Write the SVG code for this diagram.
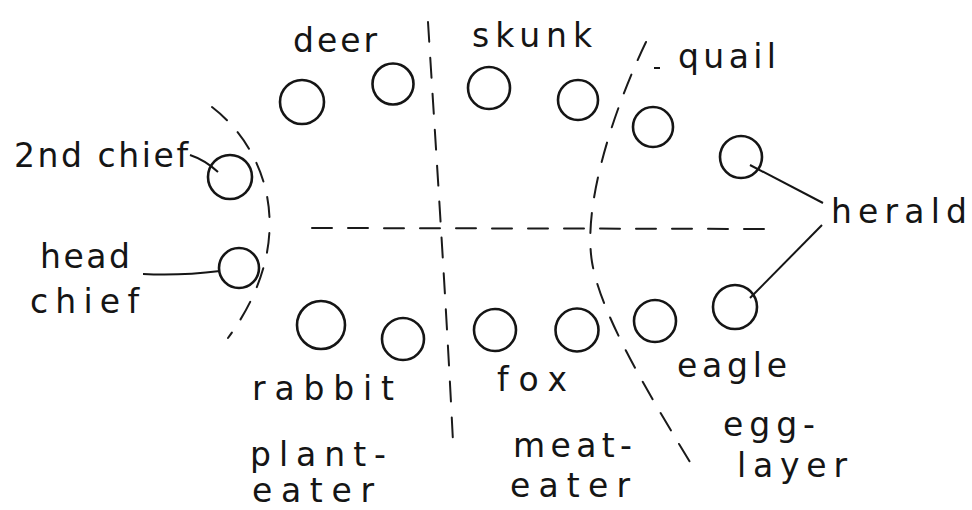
<svg xmlns="http://www.w3.org/2000/svg" width="972" height="510" viewBox="0 0 972 510">
<style>
.n{fill:none;stroke:#151515;stroke-width:2.6}
.c{fill:none;stroke:#151515;stroke-width:2}
.d{fill:none;stroke:#1a1a1a;stroke-width:2;stroke-dasharray:20 16;stroke-linecap:round}
text{font-family:"DejaVu Sans","Liberation Sans",sans-serif;font-size:33px;fill:#151515}
</style>
<rect width="972" height="510" fill="#fff"/>
<g id="dividers">
<path class="d" d="M212,107 C268,150 300,240 228,338"/>
<path class="d" d="M428,22 C436,150 446,300 453,442"/>
<path class="d" d="M312,228 L778,229"/>
<path class="d" d="M646,42 C618,100 582,200 592,262 C600,310 640,380 690,462"/>
<path class="c" d="M654,68 L660,68"/>
</g>
<g id="connectors">
<path class="c" d="M190,155 Q205,160 218,172"/>
<path class="c" d="M143,274 Q180,276 220,271"/>
<path class="c" d="M750,165 L823,203"/>
<path class="c" d="M822,225 L750,298"/>
</g>
<g id="deer"><circle class="n" cx="302" cy="102" r="22"/><circle class="n" cx="393" cy="84" r="20.5"/><text x="293" y="52" textLength="84" lengthAdjust="spacing">deer</text></g>
<g id="skunk"><circle class="n" cx="489" cy="88" r="21"/><circle class="n" cx="578" cy="100" r="20"/><text x="472" y="47" textLength="120" lengthAdjust="spacing">skunk</text></g>
<g id="quail"><circle class="n" cx="653" cy="127" r="20"/><text x="678" y="68" textLength="98" lengthAdjust="spacing">quail</text></g>
<g id="second-chief"><circle class="n" cx="230" cy="177" r="22"/><text x="14" y="167" textLength="174" lengthAdjust="spacing">2nd chief</text></g>
<g id="head-chief"><circle class="n" cx="239" cy="268" r="20"/><text x="40" y="268" textLength="90" lengthAdjust="spacing">head</text><text x="30" y="313" textLength="109" lengthAdjust="spacing">chief</text></g>
<g id="herald"><circle class="n" cx="741" cy="157" r="21"/><circle class="n" cx="735" cy="307" r="22"/><text x="831" y="223" textLength="136" lengthAdjust="spacing">herald</text></g>
<g id="rabbit"><circle class="n" cx="321" cy="325" r="24"/><circle class="n" cx="403" cy="339" r="21"/><text x="252" y="400" textLength="142" lengthAdjust="spacing">rabbit</text></g>
<g id="fox"><circle class="n" cx="495" cy="330" r="21"/><circle class="n" cx="577" cy="330" r="21.5"/><text x="497" y="391" textLength="70" lengthAdjust="spacing">fox</text></g>
<g id="eagle"><circle class="n" cx="655" cy="321" r="21"/><text x="677" y="377" textLength="110" lengthAdjust="spacing">eagle</text></g>
<g id="plant-eater"><text x="250" y="466" textLength="136" lengthAdjust="spacing">plant-</text><text x="252" y="502" textLength="122" lengthAdjust="spacing">eater</text></g>
<g id="meat-eater"><text x="513" y="457" textLength="119" lengthAdjust="spacing">meat-</text><text x="510" y="497" textLength="120" lengthAdjust="spacing">eater</text></g>
<g id="egg-layer"><text x="723" y="436" textLength="92" lengthAdjust="spacing">egg-</text><text x="737" y="477" textLength="110" lengthAdjust="spacing">layer</text></g>
</svg>
